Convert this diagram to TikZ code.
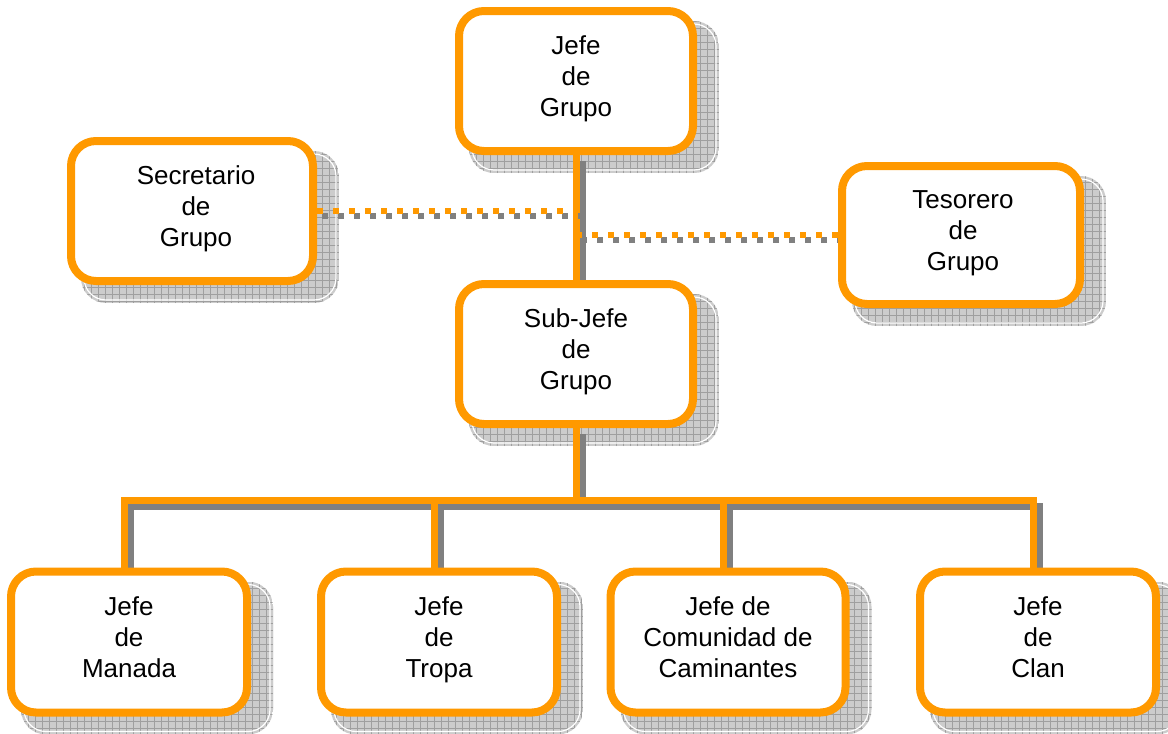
\documentclass[tikz,border=0pt]{standalone}
\usepackage{fontspec}
\setmainfont{Liberation Sans}
\definecolor{org}{HTML}{FF9900}
\definecolor{shd}{HTML}{808080}
\tikzset{
  box/.style={draw=org, line width=8pt, rounded corners=25pt, fill=white, inner sep=0pt},
  lbl/.style={align=center, font=\fontsize{26}{31}\selectfont, inner sep=0pt, yshift=2pt},
  conn/.style={draw=org, line width=7pt},
  connshd/.style={draw=shd, line width=7pt, transform canvas={shift={(6pt,-6pt)}}},
  dashconn/.style={draw=org, line width=6pt, dash pattern=on 6pt off 10pt},
  dashshd/.style={draw=shd, line width=6pt, dash pattern=on 6pt off 10pt, transform canvas={shift={(5pt,-5pt)}}},
}
\newcommand{\shadowbox}[1]{%
  \begin{scope}
    \clip[rounded corners=25pt] ([shift={(14pt,-14pt)}]#1.north west) rectangle ([shift={(22pt,-18pt)}]#1.south east);
    \fill[gray!40] ([shift={(14pt,-14pt)}]#1.north west) rectangle ([shift={(22pt,-18pt)}]#1.south east);
    \draw[gray!75, line width=0.7pt, step=7pt] ([shift={(14pt,-14pt)}]#1.north west) grid ([shift={(22pt,-18pt)}]#1.south east);
  \end{scope}
  \draw[white, line width=1.2pt, rounded corners=22pt] ([shift={(17pt,-17pt)}]#1.north west) rectangle ([shift={(19pt,-15pt)}]#1.south east);
}
\begin{document}
\begin{tikzpicture}[x=1pt,y=-1pt]
\useasboundingbox (0,0) rectangle (1168,734);
% geometry nodes
\path
  (576,81)  node[box, draw=none, fill=none, minimum width=234pt, minimum height=140pt] (G) {}
  (192,211) node[box, draw=none, fill=none, minimum width=242pt, minimum height=140pt] (S) {}
  (961,235) node[box, draw=none, fill=none, minimum width=238pt, minimum height=138pt] (T) {}
  (576,354) node[box, draw=none, fill=none, minimum width=234pt, minimum height=140pt] (SJ) {}
  (129,642) node[box, draw=none, fill=none, minimum width=236pt, minimum height=141pt] (M) {}
  (439,642) node[box, draw=none, fill=none, minimum width=236pt, minimum height=141pt] (Tr) {}
  (728,642) node[box, draw=none, fill=none, minimum width=235pt, minimum height=141pt] (C) {}
  (1038,642) node[box, draw=none, fill=none, minimum width=236pt, minimum height=141pt] (Cl) {};
% shadows
\foreach \n in {G,S,T,SJ,M,Tr,C,Cl} {\shadowbox{\n}}
% connectors
\coordinate (bus) at (576,500);
\coordinate (dM) at ([xshift=-5pt]M.north);
\coordinate (dTr) at ([xshift=-5pt]Tr.north);
\coordinate (dC) at ([xshift=-5pt]C.north);
\coordinate (dCl) at ([xshift=-5pt]Cl.north);
\draw[connshd] (G.south) -- (SJ.north);
\draw[connshd] (SJ.south) -- (bus);
\draw[connshd] (dM) |- (dCl |- bus) -- (dCl);
\draw[connshd] (dTr) -- (dTr |- bus);
\draw[connshd] (dC) -- (dC |- bus);
\draw[conn] (G.south) -- (SJ.north);
\draw[conn] (SJ.south) -- (bus);
\draw[conn] (dM) |- (dCl |- bus) -- (dCl);
\draw[conn] (dTr) -- (dTr |- bus);
\draw[conn] (dC) -- (dC |- bus);
\draw[dashshd] (S.east) -- (S.east -| G.south);
\draw[dashshd] (T.west) -- (T.west -| G.south);
\draw[dashconn] (S.east) -- (S.east -| G.south);
\draw[dashconn] (T.west) -- (T.west -| G.south);
% boxes
\node[box, minimum width=234pt, minimum height=140pt] (G2) at (G) {};
\node[box, minimum width=242pt, minimum height=140pt] (S2) at (S) {};
\node[box, minimum width=238pt, minimum height=138pt] (T2) at (T) {};
\node[box, minimum width=234pt, minimum height=140pt] (SJ2) at (SJ) {};
\node[box, minimum width=236pt, minimum height=141pt] (M2) at (M) {};
\node[box, minimum width=236pt, minimum height=141pt] (Tr2) at (Tr) {};
\node[box, minimum width=235pt, minimum height=141pt] (C2) at (C) {};
\node[box, minimum width=236pt, minimum height=141pt] (Cl2) at (Cl) {};
% labels
\node[lbl] (Gt) at (G) {\strut Jefe\\de\\Grupo\strut};
\node[lbl] (St) at ([xshift=4pt]S) {\strut Secretario\\de\\Grupo\strut};
\node[lbl] (Tt) at ([xshift=2pt]T) {\strut Tesorero\\de\\Grupo\strut};
\node[lbl] (SJt) at (SJ) {\strut Sub-Jefe\\de\\Grupo\strut};
\node[lbl] (Mt) at (M) {\strut Jefe\\de\\Manada\strut};
\node[lbl] (Trt) at (Tr) {\strut Jefe\\de\\Tropa\strut};
\node[lbl] (Ct) at (C) {\strut Jefe de\\Comunidad de\\Caminantes\strut};
\node[lbl] (Clt) at (Cl) {\strut Jefe\\de\\Clan\strut};
\end{tikzpicture}
\end{document}
